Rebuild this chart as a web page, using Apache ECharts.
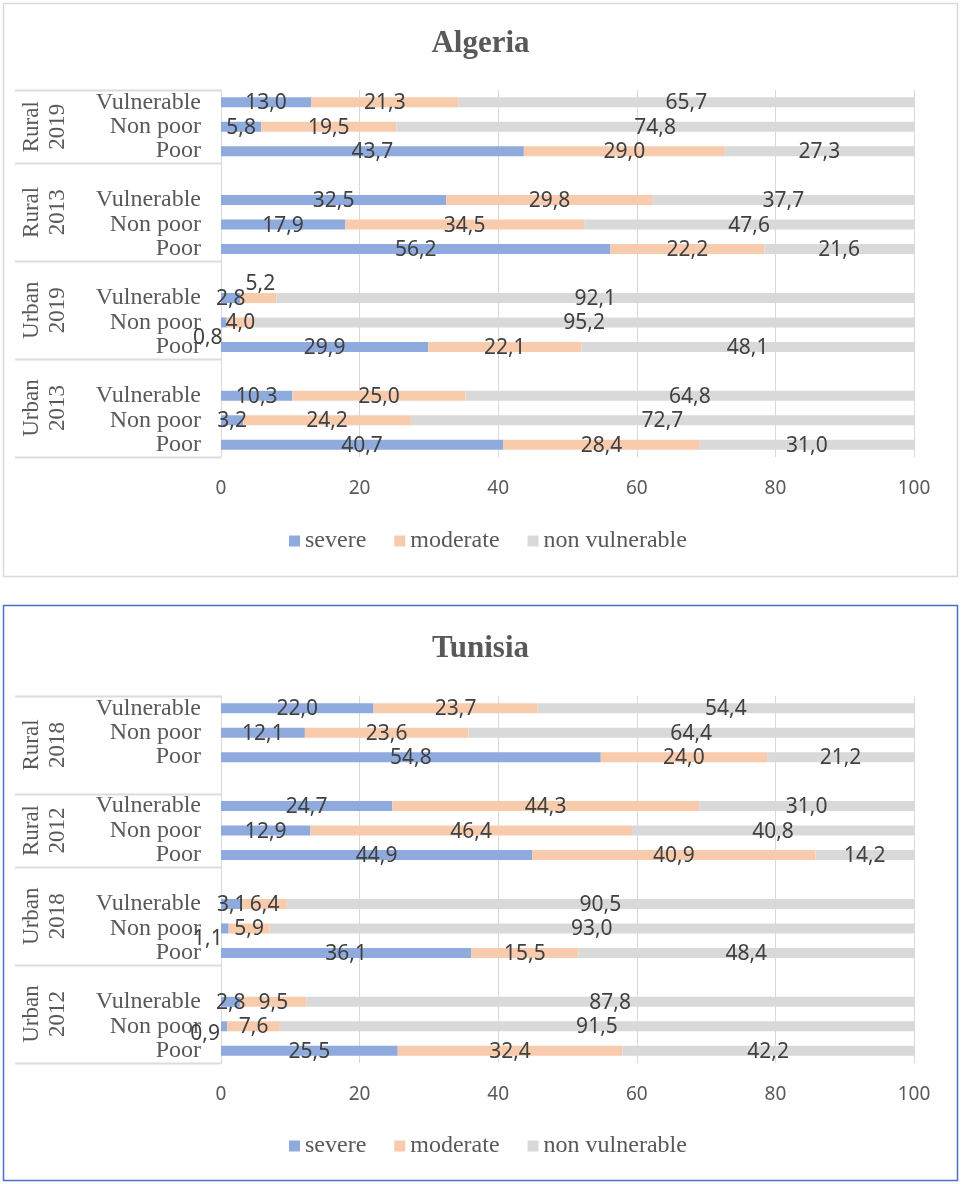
<!DOCTYPE html>
<html>
<head>
<meta charset="utf-8">
<script src="https://cdn.jsdelivr.net/npm/echarts@6/dist/echarts.min.js"></script>
<style>
  html, body { margin: 0; padding: 0; background: #ffffff; }
  #chart { width: 961px; height: 1184px; }
</style>
</head>
<body>
<div id="chart"></div>
<script>
// ---- Data (top-to-bottom order; '' / null = blank spacer row) ----
const categories = ['Vulnerable', 'Non poor', 'Poor', '',
                    'Vulnerable', 'Non poor', 'Poor', '',
                    'Vulnerable', 'Non poor', 'Poor', '',
                    'Vulnerable', 'Non poor', 'Poor'];
const seriesNames = ['severe', 'moderate', 'non vulnerable'];
const xTicks = [0, 20, 40, 60, 80, 100];

// Algeria: Rural 2019, Rural 2013, Urban 2019, Urban 2013
const algeriaSevere   = [13.0, 5.8, 43.7, null, 32.5, 17.9, 56.2, null, 2.8, 0.8, 29.9, null, 10.3, 3.2, 40.7];
const algeriaModerate = [21.3, 19.5, 29.0, null, 29.8, 34.5, 22.2, null, 5.2, 4.0, 22.1, null, 25.0, 24.2, 28.4];
const algeriaNonVuln  = [65.7, 74.8, 27.3, null, 37.7, 47.6, 21.6, null, 92.1, 95.2, 48.1, null, 64.8, 72.7, 31.0];
const algeriaGroups   = [['Rural', '2019', 0, 2], ['Rural', '2013', 3, 6], ['Urban', '2019', 7, 10], ['Urban', '2013', 11, 14]];

// Tunisia: Rural 2018, Rural 2012, Urban 2018, Urban 2012
const tunisiaSevere   = [22.0, 12.1, 54.8, null, 24.7, 12.9, 44.9, null, 3.1, 1.1, 36.1, null, 2.8, 0.9, 25.5];
const tunisiaModerate = [23.7, 23.6, 24.0, null, 44.3, 46.4, 40.9, null, 6.4, 5.9, 15.5, null, 9.5, 7.6, 32.4];
const tunisiaNonVuln  = [54.4, 64.4, 21.2, null, 31.0, 40.8, 14.2, null, 90.5, 93.0, 48.4, null, 87.8, 91.5, 42.2];
const tunisiaGroups   = [['Rural', '2018', 0, 3], ['Rural', '2012', 4, 6], ['Urban', '2018', 7, 10], ['Urban', '2012', 11, 14]];

const countries = [
  { title: 'Algeria', series: [algeriaSevere, algeriaModerate, algeriaNonVuln], groups: algeriaGroups },
  { title: 'Tunisia', series: [tunisiaSevere, tunisiaModerate, tunisiaNonVuln], groups: tunisiaGroups }
];

// ---- Styling / layout config ----
const colors = ['#8faadc', '#f8cbad', '#d9d9d9'];
const SERIF = 'Liberation Serif';
const SANS = 'Noto Sans';
const TEXT = '#595959';
const GRIDC = '#d9d9d9';
const panels = [
  { top: 90, boxY: 3, boxH: 573, boxColor: '#d9d9d9', titleTop: 23, legendTop: 529 },
  { top: 696, boxY: 605, boxH: 575, boxColor: '#4472c4', titleTop: 628, legendTop: 1134 }
];
// label displacement for crowded small segments: [panel, series, index, dx, dy]
const labelNudges = [
  [0, 1, 8, 2, -14], [0, 0, 9, -16, 16],
  [1, 0, 9, -17, 11], [1, 0, 13, -19, 8]
];

const fmt = v => v.toFixed(1).replace('.', ',');

const chart = echarts.init(document.getElementById('chart'), null, { renderer: 'canvas' });

const grids = [], xAxes = [], yAxes = [], series = [], titles = [], legends = [];
countries.forEach((c, pi) => {
  const P = panels[pi];
  grids.push({ left: 221, width: 693, top: P.top, height: 367, containLabel: false });
  xAxes.push({
    type: 'value', gridIndex: pi, min: xTicks[0], max: xTicks[xTicks.length - 1], interval: 20,
    axisLine: { show: false }, axisTick: { show: false },
    splitLine: { show: true, lineStyle: { color: GRIDC, width: 1 } },
    axisLabel: { color: TEXT, fontFamily: SANS, fontSize: 19, margin: 22 }
  });
  yAxes.push({
    type: 'category', gridIndex: pi, inverse: true, data: categories,
    axisLine: { show: true, lineStyle: { color: GRIDC, width: 1 } },
    axisTick: { show: false },
    axisLabel: { color: TEXT, fontFamily: SERIF, fontSize: 24, margin: 20, interval: 0 }
  });
  c.series.forEach((arr, si) => {
    series.push({
      name: seriesNames[si], type: 'bar', stack: 'p' + pi,
      xAxisIndex: pi, yAxisIndex: pi, barWidth: 10,
      itemStyle: { color: colors[si] },
      label: {
        show: true, position: 'inside', color: '#404040', fontFamily: SANS, fontSize: 21,
        offset: [0, 1],
        formatter: p => (p.value == null ? '' : fmt(p.value))
      },
      data: arr.map((v, i) => {
        const n = labelNudges.find(t => t[0] === pi && t[1] === si && t[2] === i);
        if (n) return { value: v, label: { offset: [n[3], n[4]] } };
        return v;
      })
    });
  });
  titles.push({
    text: c.title, left: 'center', top: P.titleTop,
    textStyle: { fontFamily: SERIF, fontSize: 31, fontWeight: 'bold', color: TEXT }
  });
  legends.push({
    data: seriesNames, left: 289, top: P.legendTop, icon: 'rect', padding: 0,
    itemWidth: 11, itemHeight: 11, itemGap: 28,
    textStyle: { fontFamily: SERIF, fontSize: 24, color: TEXT }
  });
});

chart.setOption({
  animation: false,
  backgroundColor: '#ffffff',
  title: titles, legend: legends, grid: grids, xAxis: xAxes, yAxis: yAxes, series: series
});

// ---- Decorations: boxes, multi-level group lines & labels (positions from axis scale) ----
const graphics = [];
panels.forEach((P, pi) => {
  graphics.push({
    type: 'rect', silent: true, z: -1,
    shape: { x: 3.5, y: P.boxY + 0.5, width: 954, height: P.boxH },
    style: { fill: 'none', stroke: P.boxColor, lineWidth: 1.5 }
  });
  const c0 = chart.convertToPixel({ yAxisIndex: pi }, 0);
  const c1 = chart.convertToPixel({ yAxisIndex: pi }, 1);
  const step = c1 - c0;
  const axisX = chart.convertToPixel({ xAxisIndex: pi }, 0);
  countries[pi].groups.forEach((g, gi) => {
    const yTop = chart.convertToPixel({ yAxisIndex: pi }, g[2]) - step / 2;
    const yBot = chart.convertToPixel({ yAxisIndex: pi }, g[3]) + step / 2;
    if (gi === 0) {
      graphics.push({ type: 'line', silent: true, shape: { x1: 15, y1: Math.round(yTop) + 0.5, x2: axisX, y2: Math.round(yTop) + 0.5 },
        style: { stroke: '#dcdcdc', lineWidth: 2 } });
    }
    graphics.push({ type: 'line', silent: true, shape: { x1: 15, y1: Math.round(yBot) + 0.5, x2: axisX, y2: Math.round(yBot) + 0.5 },
      style: { stroke: '#dcdcdc', lineWidth: 2 } });
    graphics.push({
      type: 'text', silent: true, x: 45, y: (yTop + yBot) / 2, rotation: Math.PI / 2,
      style: { text: g[0] + '\n' + g[1], fontFamily: SERIF, fontSize: 23, lineHeight: 26,
        fill: TEXT, textAlign: 'center', textVerticalAlign: 'middle' }
    });
  });
});
chart.setOption({ graphic: graphics });
</script>
</body>
</html>
